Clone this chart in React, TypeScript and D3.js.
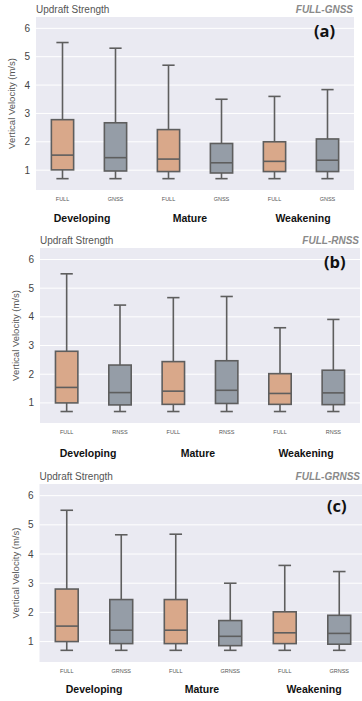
import * as d3 from 'd3';

// ---- data ----
const groups = ['Developing', 'Mature', 'Weakening'];
const yTicks = [1, 2, 3, 4, 5, 6];

const labelsA = ['FULL', 'GNSS', 'FULL', 'GNSS', 'FULL', 'GNSS'];
const hiA = [5.5, 5.3, 4.7, 3.5, 3.6, 3.84];
const q3A = [2.78, 2.67, 2.43, 1.94, 2.0, 2.1];
const medA = [1.53, 1.44, 1.39, 1.26, 1.31, 1.35];
const q1A = [1.01, 0.97, 0.95, 0.9, 0.95, 0.95];
const loA = [0.7, 0.7, 0.7, 0.7, 0.7, 0.7];

const labelsB = ['FULL', 'RNSS', 'FULL', 'RNSS', 'FULL', 'RNSS'];
const hiB = [5.5, 4.41, 4.67, 4.71, 3.62, 3.91];
const q3B = [2.8, 2.32, 2.44, 2.47, 2.02, 2.14];
const medB = [1.54, 1.36, 1.41, 1.44, 1.33, 1.35];
const q1B = [1.0, 0.93, 0.95, 0.98, 0.95, 0.94];
const loB = [0.7, 0.7, 0.7, 0.7, 0.7, 0.7];

const labelsC = ['FULL', 'GRNSS', 'FULL', 'GRNSS', 'FULL', 'GRNSS'];
const hiC = [5.5, 4.66, 4.68, 3.0, 3.61, 3.4];
const q3C = [2.8, 2.44, 2.44, 1.72, 2.02, 1.9];
const medC = [1.53, 1.39, 1.39, 1.18, 1.3, 1.28];
const q1C = [1.0, 0.93, 0.93, 0.86, 0.93, 0.91];
const loC = [0.7, 0.7, 0.7, 0.7, 0.7, 0.7];

const fullColor = '#d9a88a';
const otherColor = '#959da7';
const lineColor = '#5e5e5e';
const font = '"Liberation Sans", Arial, sans-serif';

type PanelProps = {
  tag: string;
  name: string;
  nameX: number;
  labels: string[];
  hi: number[];
  q3: number[];
  med: number[];
  q1: number[];
  lo: number[];
  left: number;
  right: number;
  top: number;
  bottom: number;
  groupX: number[];
  groupY: number;
  tagX: number;
  tagY: number;
};

function Panel(p: PanelProps) {
  const x = d3
    .scaleBand<number>()
    .domain(d3.range(p.labels.length))
    .range([p.left, p.right]);
  const y = d3.scaleLinear().domain([0.3, 6.4]).range([p.bottom, p.top]);
  const bw = x.bandwidth() * 0.42;
  const cap = bw * 0.55;

  return (
    <g>
      <rect x={p.left} y={p.top} width={p.right - p.left} height={p.bottom - p.top} fill="#eaeaf2" />
      {yTicks.map((t) => (
        <g key={t}>
          <line x1={p.left} x2={p.right} y1={y(t)} y2={y(t)} stroke="#fff" strokeWidth={1} />
          <text x={p.left - 6} y={y(t)} dy="0.35em" textAnchor="end" fontSize={10} fill="#444">
            {t}
          </text>
        </g>
      ))}
      <text
        transform={`translate(${p.left - 21},${(p.top + p.bottom) / 2}) rotate(-90)`}
        textAnchor="middle"
        fontSize={9.5}
        fill="#555"
      >
        Vertical Velocity (m/s)
      </text>
      <text x={p.left} y={p.top - 4} fontSize={10} fill="#555">
        Updraft Strength
      </text>
      <text x={p.nameX} y={p.top - 4} fontSize={10} fill="#8a8a8a" fontWeight="bold" fontStyle="italic" textAnchor="end">
        {p.name}
      </text>
      <text x={p.tagX} y={p.tagY} fontSize={16.5} fontWeight="bold" fill="#111" fontFamily='"Open Sans", sans-serif'>
        {p.tag}
      </text>
      {p.labels.map((lab, i) => {
        const cx = (x(i) ?? 0) + x.bandwidth() / 2;
        return (
          <g key={i}>
            <line x1={cx} x2={cx} y1={y(p.hi[i])} y2={y(p.q3[i])} stroke={lineColor} strokeWidth={1.6} />
            <line x1={cx} x2={cx} y1={y(p.q1[i])} y2={y(p.lo[i])} stroke={lineColor} strokeWidth={1.6} />
            <line x1={cx - cap / 2} x2={cx + cap / 2} y1={y(p.hi[i])} y2={y(p.hi[i])} stroke={lineColor} strokeWidth={1.6} />
            <line x1={cx - cap / 2} x2={cx + cap / 2} y1={y(p.lo[i])} y2={y(p.lo[i])} stroke={lineColor} strokeWidth={1.6} />
            <rect
              x={cx - bw / 2}
              y={y(p.q3[i])}
              width={bw}
              height={y(p.q1[i]) - y(p.q3[i])}
              fill={lab === 'FULL' ? fullColor : otherColor}
              stroke={lineColor}
              strokeWidth={1.6}
            />
            <line x1={cx - bw / 2} x2={cx + bw / 2} y1={y(p.med[i])} y2={y(p.med[i])} stroke={lineColor} strokeWidth={1.6} />
            <text x={cx} y={p.bottom + 11} fontSize={5.5} textAnchor="middle" fill="#555">
              {lab}
            </text>
          </g>
        );
      })}
      {groups.map((g, i) => (
        <text key={g} x={p.groupX[i]} y={p.groupY} fontSize={10.5} fontWeight="bold" textAnchor="middle" fill="#111">
          {g}
        </text>
      ))}
    </g>
  );
}

export default function App() {
  return (
    <svg
      width={362}
      height={701}
      style={{ position: 'absolute', left: 0, top: 0, background: '#fff' }}
      fontFamily={font}
    >
      <Panel
        tag="(a)"
        name="FULL-GNSS"
        nameX={353}
        labels={labelsA}
        hi={hiA}
        q3={q3A}
        med={medA}
        q1={q1A}
        lo={loA}
        left={36}
        right={354}
        top={17}
        bottom={190}
        groupX={[82, 190, 303]}
        groupY={222}
        tagX={314}
        tagY={37}
      />
      <Panel
        tag="(b)"
        name="FULL-RNSS"
        nameX={359}
        labels={labelsB}
        hi={hiB}
        q3={q3B}
        med={medB}
        q1={q1B}
        lo={loB}
        left={40}
        right={360}
        top={248}
        bottom={423}
        groupX={[88, 198, 306]}
        groupY={457}
        tagX={324}
        tagY={268}
      />
      <Panel
        tag="(c)"
        name="FULL-GRNSS"
        nameX={360}
        labels={labelsC}
        hi={hiC}
        q3={q3C}
        med={medC}
        q1={q1C}
        lo={loC}
        left={39.5}
        right={366.5}
        top={484}
        bottom={662}
        groupX={[94, 202, 314]}
        groupY={693}
        tagX={327}
        tagY={512}
      />
    </svg>
  );
}
